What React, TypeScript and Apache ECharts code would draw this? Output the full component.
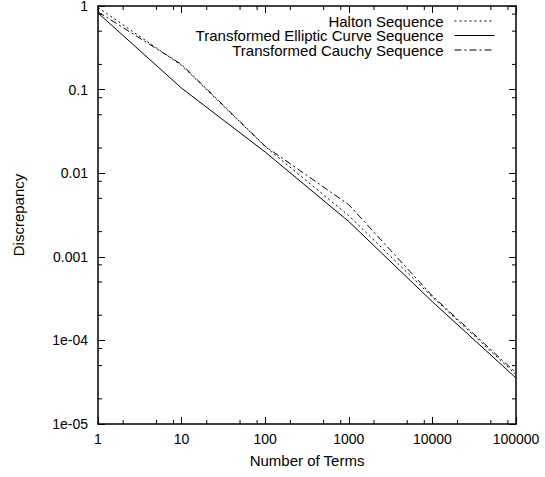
import React, { useEffect, useRef } from "react";
import * as echarts from "echarts";

// ---- data ----
const terms = [1, 10, 100, 1000, 10000, 100000];
const halton = [0.96, 0.195, 0.0208, 0.0031, 3.3e-4, 3.9e-5];
const elliptic = [0.825, 0.104, 0.0179, 0.00264, 2.9e-4, 3.55e-5];
const cauchy = [0.85, 0.2, 0.021, 0.0042, 3.4e-4, 4.1e-5];

const seriesNames = [
  "Halton Sequence",
  "Transformed Elliptic Curve Sequence",
  "Transformed Cauchy Sequence",
];

const xMin = 1;
const xMax = 100000;
const yMin = 1e-5;
const yMax = 1;

const minorTicksX = [2, 5, 8, 20, 50, 80, 200, 500, 800, 2000, 5000, 8000, 20000, 50000, 80000];
const minorTicksY = [2e-5, 5e-5, 8e-5, 2e-4, 5e-4, 8e-4, 0.002, 0.005, 0.008, 0.02, 0.05, 0.08, 0.2, 0.5, 0.8];

const FONT = "'Liberation Sans', Arial, Helvetica, sans-serif";

function yLabel(v: number): string {
  const e = Math.round(Math.log10(v));
  if (e >= -3) return String(Number(Math.pow(10, e).toFixed(6)));
  const a = Math.abs(e);
  return "1e-" + (a < 10 ? "0" + a : String(a));
}
function xLabel(v: number): string {
  return String(Math.round(v));
}

export default function App() {
  const ref = useRef<HTMLDivElement>(null);
  useEffect(() => {
    if (!ref.current) return;
    const chart = echarts.init(ref.current, null, { renderer: "svg" });
    const axisLine = { show: true, lineStyle: { color: "#000", width: 1.5 } };
    const tick = { show: true, inside: true, length: 7, lineStyle: { color: "#000", width: 1 } };
    const lbl = { color: "#000", fontSize: 14, fontFamily: FONT, lineHeight: 12 };
    const nameStyle = { color: "#000", fontSize: 15, fontFamily: FONT };

    const mk = (vals: number[]) => terms.map((t, i) => [t, vals[i]]);

    const legendBase = (name: string, top: number) => ({
      data: [name],
      orient: "vertical",
      right: 50,
      top,
      padding: 0,
      align: "right",
      itemWidth: 40,
      itemHeight: 14,
      itemStyle: { opacity: 0 },
      lineStyle: { opacity: 1, color: "#000", width: 1 },
      textStyle: { color: "#000", fontSize: 15, fontFamily: FONT, lineHeight: 13, padding: [0, 6, 0, 0] },
      selectedMode: false,
    });

    chart.setOption({
      animation: false,
      backgroundColor: "#fff",
      grid: {
        left: 98,
        right: 29,
        top: 6,
        bottom: 53,
        containLabel: false,
        outerBoundsMode: "none",
      },
      legend: [
        legendBase(seriesNames[0], 13.5),
        legendBase(seriesNames[1], 28),
        legendBase(seriesNames[2], 42.5),
      ],
      xAxis: [
        {
          type: "log",
          logBase: 10,
          min: xMin,
          max: xMax,
          position: "bottom",
          name: "Number of Terms",
          nameLocation: "middle",
          nameGap: 29,
          nameTextStyle: nameStyle,
          axisLine,
          axisTick: tick,
          splitLine: { show: false },
          axisLabel: { ...lbl, margin: 9, formatter: xLabel, showMinLabel: true, showMaxLabel: true },
        },
        {
          type: "log",
          logBase: 10,
          min: xMin,
          max: xMax,
          position: "top",
          axisLine,
          axisTick: tick,
          splitLine: { show: false },
          axisLabel: { show: false },
        },
      ],
      yAxis: [
        {
          type: "log",
          logBase: 10,
          min: yMin,
          max: yMax,
          position: "left",
          name: "Discrepancy",
          nameLocation: "middle",
          nameGap: 72,
          nameTextStyle: nameStyle,
          axisLine,
          axisTick: tick,
          splitLine: { show: false },
          axisLabel: { ...lbl, margin: 10, formatter: yLabel, showMinLabel: true, showMaxLabel: true },
        },
        {
          type: "log",
          logBase: 10,
          min: yMin,
          max: yMax,
          position: "right",
          axisLine,
          axisTick: tick,
          splitLine: { show: false },
          axisLabel: { show: false },
        },
      ],
      series: [
        {
          name: seriesNames[0],
          type: "line",
          data: mk(halton),
          symbol: "none",
          lineStyle: { color: "#000", width: 1, type: [2, 3] },
          itemStyle: { color: "#000" },
        },
        {
          name: seriesNames[1],
          type: "line",
          data: mk(elliptic),
          symbol: "none",
          lineStyle: { color: "#000", width: 1, type: "solid" },
          itemStyle: { color: "#000" },
        },
        {
          name: seriesNames[2],
          type: "line",
          data: mk(cauchy),
          symbol: "none",
          lineStyle: { color: "#000", width: 1, type: [7, 3, 2, 3] },
          itemStyle: { color: "#000" },
        },
        {
          name: "xMinor",
          type: "custom",
          silent: true,
          data: minorTicksX.map((v) => [v, yMin]),
          encode: { x: 0, y: 1 },
          renderItem: (_p: any, api: any) => {
            const v = api.value(0);
            const b = api.coord([v, yMin]);
            const t = api.coord([v, yMax]);
            const st = { stroke: "#000", lineWidth: 1 };
            return {
              type: "group",
              children: [
                { type: "line", shape: { x1: b[0], y1: b[1], x2: b[0], y2: b[1] - 4 }, style: st },
                { type: "line", shape: { x1: t[0], y1: t[1], x2: t[0], y2: t[1] + 4 }, style: st },
              ],
            };
          },
        },
        {
          name: "yMinor",
          type: "custom",
          silent: true,
          data: minorTicksY.map((v) => [xMin, v]),
          encode: { x: 0, y: 1 },
          renderItem: (_p: any, api: any) => {
            const v = api.value(1);
            const l = api.coord([xMin, v]);
            const r = api.coord([xMax, v]);
            const st = { stroke: "#000", lineWidth: 1 };
            return {
              type: "group",
              children: [
                { type: "line", shape: { x1: l[0], y1: l[1], x2: l[0] + 4, y2: l[1] }, style: st },
                { type: "line", shape: { x1: r[0], y1: r[1], x2: r[0] - 4, y2: r[1] }, style: st },
              ],
            };
          },
        },
      ],
    });
    return () => chart.dispose();
  }, []);
  return <div ref={ref} style={{ width: 545, height: 477, position: "absolute", left: 0, top: 0 }} />;
}
